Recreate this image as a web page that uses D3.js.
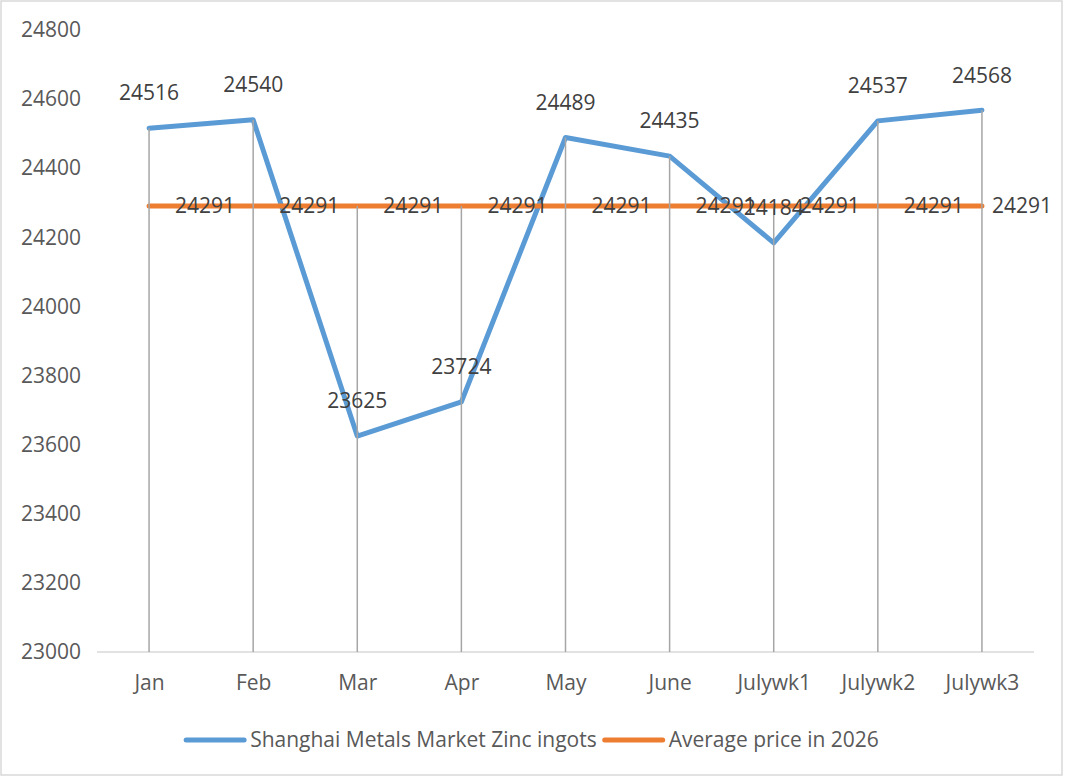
<!DOCTYPE html>
<html>
<head>
<meta charset="utf-8">
<script src="https://cdn.jsdelivr.net/npm/d3@7"></script>
<style>
  html, body { margin: 0; padding: 0; background: #fff; }
  svg { display: block; font-family: "Open Sans", "Liberation Sans", sans-serif; }
</style>
</head>
<body>
<svg id="chart" width="1065" height="778"></svg>
<script>
const categories = ["Jan", "Feb", "Mar", "Apr", "May", "June", "Julywk1", "Julywk2", "Julywk3"];
const zincPrices = [24516, 24540, 23625, 23724, 24489, 24435, 24184, 24537, 24568];
const averagePrices = [24291, 24291, 24291, 24291, 24291, 24291, 24291, 24291, 24291];
const seriesNames = ["Shanghai Metals Market Zinc ingots", "Average price in 2026"];
const yTicks = [23000, 23200, 23400, 23600, 23800, 24000, 24200, 24400, 24600, 24800];

const W = 1065, H = 778;
const plot = { left: 97, right: 1034, top: 30, bottom: 652 };
const colors = ["#5b9bd5", "#ed7d31"];
const fontSize = 21;

const svg = d3.select("#chart");

// chart border
svg.append("rect").attr("x", 1).attr("y", 1).attr("width", W - 4).attr("height", H - 4)
  .attr("fill", "#fff").attr("stroke", "#d9d9d9").attr("stroke-width", 1.5);

const x = d3.scalePoint().domain(categories).range([plot.left, plot.right]).padding(0.5);
const y = d3.scaleLinear().domain([23000, 24800]).range([plot.bottom, plot.top]);

// y axis labels (no line)
const yAxis = d3.axisLeft(y).tickValues(yTicks).tickSize(0).tickPadding(0).tickFormat(d3.format("d"));
const gy = svg.append("g").attr("transform", `translate(81,0)`).call(yAxis);
gy.select(".domain").remove();
gy.selectAll("text").attr("font-size", fontSize).attr("fill", "#595959")
  .attr("font-family", "'Open Sans', sans-serif");

// x axis
const xAxis = d3.axisBottom(x).tickSize(0).tickPadding(23);
const gx = svg.append("g").attr("transform", `translate(0,${plot.bottom})`).call(xAxis);
gx.select(".domain").attr("stroke", "#d9d9d9").attr("stroke-width", 1.5)
  .attr("d", `M${plot.left},0H${plot.right}`);
gx.selectAll("text").attr("font-size", fontSize).attr("fill", "#595959")
  .attr("font-family", "'Open Sans', sans-serif");

const series = [zincPrices, averagePrices];
const line = d3.line().x((d, i) => x(categories[i])).y(d => y(d));

// lines
series.forEach((vals, s) => {
  svg.append("path").datum(vals).attr("d", line)
    .attr("fill", "none").attr("stroke", colors[s]).attr("stroke-width", 5)
    .attr("stroke-linejoin", "round").attr("stroke-linecap", "round");
});

// drop lines
svg.append("g").selectAll("line").data(categories).join("line")
  .attr("x1", d => x(d)).attr("x2", d => x(d))
  .attr("y1", (d, i) => y(Math.max(zincPrices[i], averagePrices[i])))
  .attr("y2", plot.bottom)
  .attr("stroke", "#a6a6a6").attr("stroke-width", 1.5);

// data labels: zinc above
svg.append("g").selectAll("text").data(zincPrices).join("text")
  .attr("x", (d, i) => x(categories[i]))
  .attr("y", d => y(d) - 35)
  .attr("dy", "0.35em")
  .attr("text-anchor", "middle")
  .attr("font-size", fontSize).attr("fill", "#404040")
  .text(d => d);

// data labels: average right
svg.append("g").selectAll("text").data(averagePrices).join("text")
  .attr("y", d => y(d))
  .attr("dy", "0.35em")
  .attr("font-size", fontSize).attr("fill", "#404040")
  .text(d => d)
  .attr("x", function (d, i) {
    const w = this.getComputedTextLength();
    return Math.min(x(categories[i]) + 26, W - 13 - w);
  });

// legend
const legend = svg.append("g");
const items = legend.selectAll("g").data(seriesNames).join("g");
items.append("line").attr("x1", 0).attr("x2", 58).attr("y1", 0).attr("y2", 0)
  .attr("stroke", (d, i) => colors[i]).attr("stroke-width", 5).attr("stroke-linecap", "round");
items.append("text").attr("x", 64).attr("dy", "0.35em")
  .attr("font-size", fontSize).attr("fill", "#595959").text(d => d);
const widths = [];
items.each(function () { widths.push(this.getBBox().width); });
const gap = 8;
const total = d3.sum(widths) + gap * (widths.length - 1);
let cx = (W - total) / 2;
items.attr("transform", (d, i) => {
  const t = `translate(${cx},740)`;
  cx += widths[i] + gap;
  return t;
});
</script>
</body>
</html>
